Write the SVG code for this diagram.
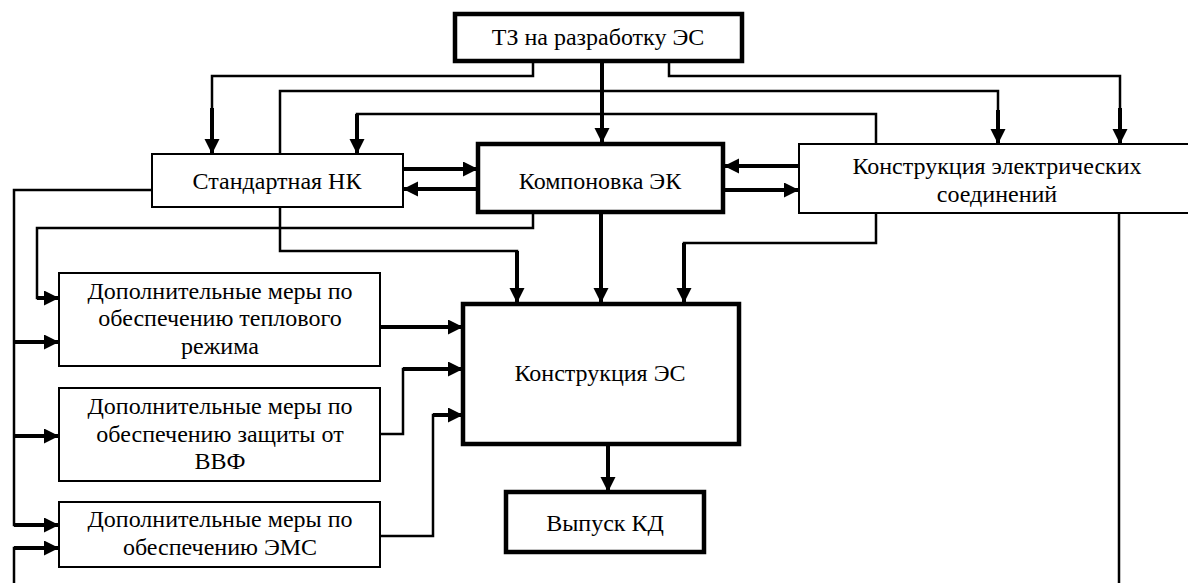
<svg xmlns="http://www.w3.org/2000/svg" width="1188" height="583" viewBox="0 0 1188 583" font-family="Liberation Serif, Times New Roman, serif">
<style>
.box{fill:#fff;stroke:#000;stroke-width:2}
.tbox{fill:#fff;stroke:#000;stroke-width:4.5}
.lbl{font-size:24px;fill:#000;text-anchor:middle}
.c{fill:none;stroke:#000;stroke-width:2.5}
.a{fill:none;stroke:#000;stroke-width:4;marker-end:url(#ah)}
</style>
<defs>
<marker id="ah" markerUnits="userSpaceOnUse" markerWidth="16" markerHeight="16" refX="15" refY="7.5" orient="auto">
<path d="M0,0 L15,7.5 L0,15 z" fill="#000"/>
</marker>
</defs>
<rect width="1188" height="583" fill="#fff"/>
<g id="connectors">
<polyline class="c" points="533,61 533,76 212,76 212,110"/>
<line class="a" x1="212" y1="108" x2="212" y2="154"/>
<line class="a" x1="602" y1="61" x2="602" y2="143"/>
<polyline class="c" points="669,61 669,76 1120,76 1120,110"/>
<line class="a" x1="1120" y1="108" x2="1120" y2="144"/>
<polyline class="c" points="280,154 280,91 998,91 998,112"/>
<line class="a" x1="998" y1="110" x2="998" y2="144"/>
<polyline class="c" points="876,144 876,114 357,114 357,122"/>
<line class="a" x1="357" y1="114" x2="357" y2="154"/>
<line class="a" x1="403" y1="169" x2="478" y2="169"/>
<line class="a" x1="478" y1="189" x2="403" y2="189"/>
<line class="a" x1="799" y1="166" x2="724" y2="166"/>
<line class="a" x1="724" y1="190" x2="799" y2="190"/>
<polyline class="c" points="280,207 280,251 517,251 517,262"/>
<line class="a" x1="517" y1="251" x2="517" y2="303"/>
<line class="a" x1="601" y1="212" x2="601" y2="303"/>
<polyline class="c" points="876,213 876,243 684,243 684,255"/>
<line class="a" x1="684" y1="243" x2="684" y2="303"/>
<polyline class="c" points="533,212 533,228 37,228 37,298 42,298"/>
<line class="a" x1="37" y1="298" x2="59" y2="298"/>
<polyline class="c" points="152,190 14,190 14,525 20,525"/>
<line class="a" x1="14" y1="342" x2="59" y2="342"/>
<line class="a" x1="14" y1="436" x2="59" y2="436"/>
<line class="a" x1="14" y1="525" x2="59" y2="525"/>
<line class="c" x1="1119" y1="213" x2="1119" y2="583"/>
<polyline class="c" points="14,583 14,548 22,548"/>
<line class="a" x1="14" y1="548" x2="59" y2="548"/>
<line class="a" x1="380" y1="327" x2="463" y2="327"/>
<polyline class="c" points="380,434 403,434 403,369 410,369"/>
<line class="a" x1="403" y1="369" x2="463" y2="369"/>
<polyline class="c" points="380,536 433,536 433,415 440,415"/>
<line class="a" x1="433" y1="415" x2="463" y2="415"/>
<line class="a" x1="608" y1="444" x2="608" y2="492"/>
</g>
<g id="tz">
<rect class="tbox" x="455" y="14" width="287" height="47"/>
<text class="lbl" x="598" y="45">ТЗ на разработку ЭС</text>
</g>
<g id="std">
<rect class="box" x="152" y="154" width="251" height="53"/>
<text class="lbl" x="277" y="189">Стандартная НК</text>
</g>
<g id="komp">
<rect class="tbox" x="478" y="144" width="245" height="68"/>
<text class="lbl" x="600" y="189">Компоновка ЭК</text>
</g>
<g id="kes">
<rect class="box" x="799" y="144" width="400" height="69"/>
<text class="lbl" x="997" y="174">Конструкция электрических</text>
<text class="lbl" x="997" y="202">соединений</text>
</g>
<g id="dop1">
<rect class="box" x="59" y="273" width="321" height="93"/>
<text class="lbl" x="220" y="299">Дополнительные меры по</text>
<text class="lbl" x="220" y="326">обеспечению теплового</text>
<text class="lbl" x="220" y="354">режима</text>
</g>
<g id="dop2">
<rect class="box" x="59" y="388" width="321" height="93"/>
<text class="lbl" x="220" y="414">Дополнительные меры по</text>
<text class="lbl" x="220" y="442">обеспечению защиты от</text>
<text class="lbl" x="220" y="469">ВВФ</text>
</g>
<g id="dop3">
<rect class="box" x="59" y="502" width="321" height="65"/>
<text class="lbl" x="220" y="527">Дополнительные меры по</text>
<text class="lbl" x="220" y="555">обеспечению ЭМС</text>
</g>
<g id="kons">
<rect class="tbox" x="463" y="304" width="276" height="140"/>
<text class="lbl" x="600" y="381">Конструкция ЭС</text>
</g>
<g id="vyp">
<rect class="tbox" x="506" y="492" width="198" height="60"/>
<text class="lbl" x="605" y="531">Выпуск КД</text>
</g>
</svg>
